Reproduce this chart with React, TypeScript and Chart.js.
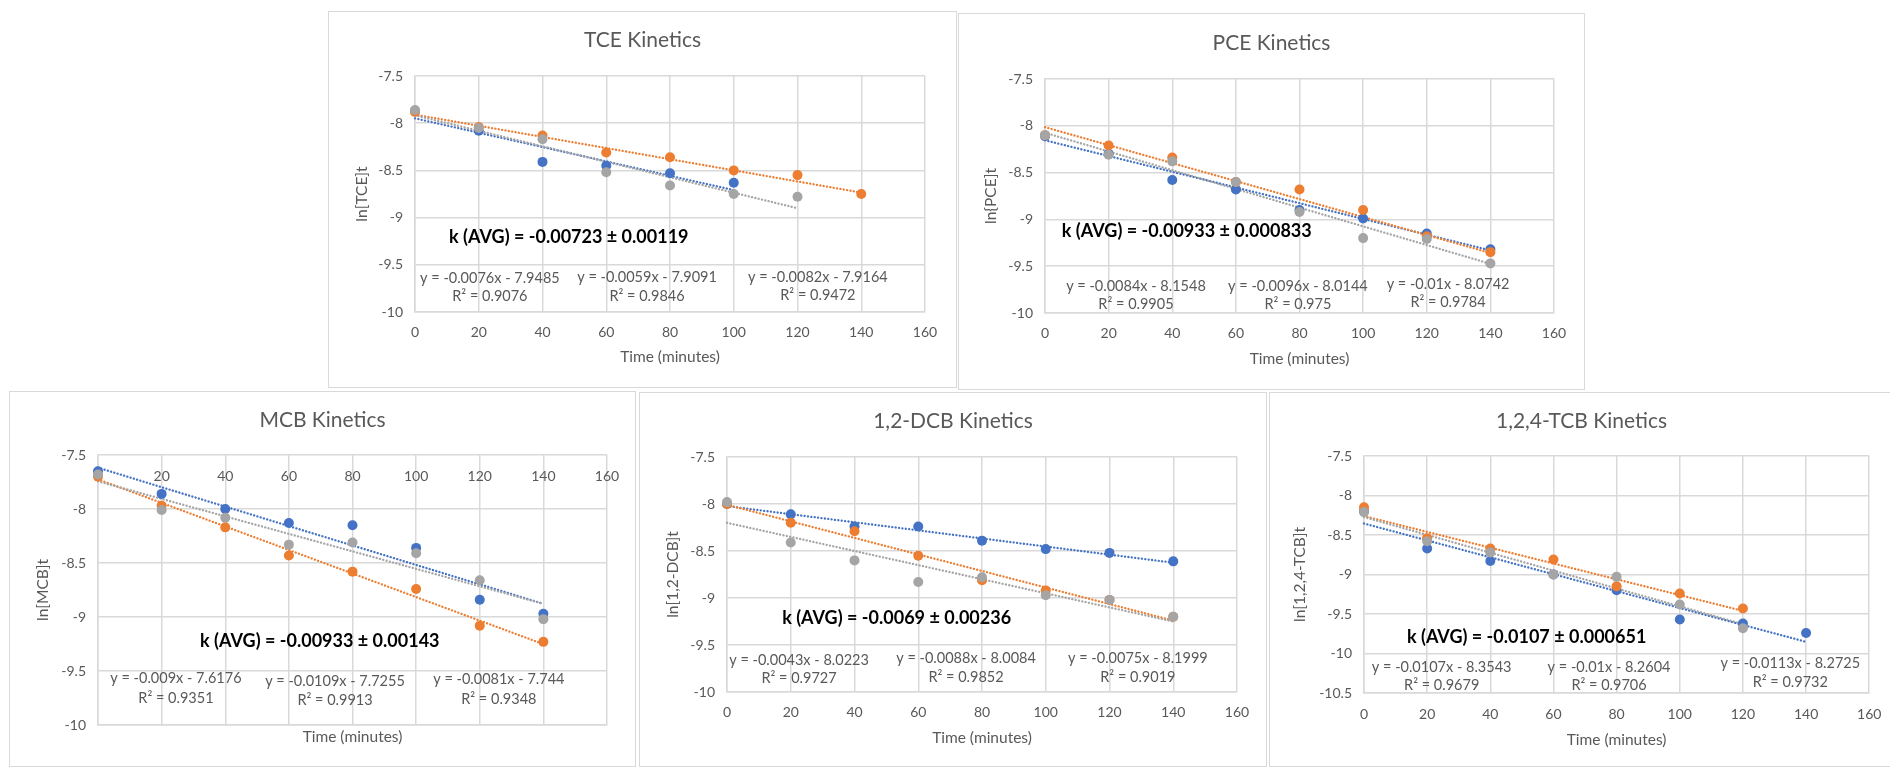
import React, { useEffect, useRef } from 'react';
import { Chart, registerables } from 'chart.js';

Chart.register(...registerables);

// ---------- shared axes ----------
const times = [0, 20, 40, 60, 80, 100, 120, 140];
const xTickValues = [0, 20, 40, 60, 80, 100, 120, 140, 160];
const yTickValues = [-10, -9.5, -9, -8.5, -8, -7.5];
const yTickValuesTCB = [-10.5, -10, -9.5, -9, -8.5, -8, -7.5];
const xAxisTitle = 'Time (minutes)';
const seriesNames = ['Trial 1', 'Trial 2', 'Trial 3'];

// ---------- TCE ----------
const tceTitle = 'TCE Kinetics';
const tceYTitle = 'ln[TCE]t';
const tceBlue = [-7.87, -8.08, -8.41, -8.45, -8.53, -8.63];
const tceOrange = [-7.88, -8.04, -8.13, -8.31, -8.36, -8.5, -8.55, -8.75];
const tceGray = [-7.86, -8.05, -8.17, -8.52, -8.66, -8.75, -8.78];
const tceSlopes = [-0.0076, -0.0059, -0.0082];
const tceIntercepts = [-7.9485, -7.9091, -7.9164];
const tceR2 = ['0.9076', '0.9846', '0.9472'];
const tceK = ['-0.00723', '0.00119'];

// ---------- PCE ----------
const pceTitle = 'PCE Kinetics';
const pceYTitle = 'ln{PCE]t';
const pceBlue = [-8.11, -8.3, -8.58, -8.68, -8.9, -8.99, -9.15, -9.32];
const pceOrange = [-8.1, -8.21, -8.34, -8.6, -8.68, -8.9, -9.18, -9.35];
const pceGray = [-8.1, -8.31, -8.38, -8.6, -8.92, -9.2, -9.21, -9.47];
const pceSlopes = [-0.0084, -0.0096, -0.01];
const pceIntercepts = [-8.1548, -8.0144, -8.0742];
const pceR2 = ['0.9905', '0.975', '0.9784'];
const pceK = ['-0.00933', '0.000833'];

// ---------- MCB ----------
const mcbTitle = 'MCB Kinetics';
const mcbYTitle = 'ln[MCB]t';
const mcbBlue = [-7.65, -7.86, -8.0, -8.13, -8.15, -8.36, -8.84, -8.97];
const mcbOrange = [-7.7, -7.97, -8.17, -8.43, -8.58, -8.74, -9.08, -9.23];
const mcbGray = [-7.68, -8.01, -8.08, -8.33, -8.31, -8.41, -8.66, -9.02];
const mcbSlopes = [-0.009, -0.0109, -0.0081];
const mcbIntercepts = [-7.6176, -7.7255, -7.744];
const mcbR2 = ['0.9351', '0.9913', '0.9348'];
const mcbK = ['-0.00933', '0.00143'];

// ---------- 1,2-DCB ----------
const dcbTitle = '1,2-DCB Kinetics';
const dcbYTitle = 'ln[1,2-DCB]t';
const dcbBlue = [-8.0, -8.11, -8.24, -8.24, -8.39, -8.48, -8.52, -8.61];
const dcbOrange = [-8.0, -8.2, -8.29, -8.55, -8.81, -8.92, -9.02, -9.2];
const dcbGray = [-7.98, -8.41, -8.6, -8.83, -8.78, -8.97, -9.02, -9.2];
const dcbSlopes = [-0.0043, -0.0088, -0.0075];
const dcbIntercepts = [-8.0223, -8.0084, -8.1999];
const dcbR2 = ['0.9727', '0.9852', '0.9019'];
const dcbK = ['-0.0069', '0.00236'];

// ---------- 1,2,4-TCB ----------
const tcbTitle = '1,2,4-TCB Kinetics';
const tcbYTitle = 'ln[1,2,4-TCB]t';
const tcbBlue = [-8.2, -8.67, -8.83, -9.0, -9.2, -9.57, -9.62, -9.74];
const tcbOrange = [-8.15, -8.54, -8.67, -8.81, -9.15, -9.24, -9.43];
const tcbGray = [-8.21, -8.58, -8.72, -9.0, -9.03, -9.38, -9.68];
const tcbSlopes = [-0.0107, -0.01, -0.0113];
const tcbIntercepts = [-8.3543, -8.2604, -8.2725];
const tcbR2 = ['0.9679', '0.9706', '0.9732'];
const tcbK = ['-0.0107', '0.000651'];

// ---------- styles ----------
const FONT = 'Lato, "Open Sans", "DejaVu Sans", sans-serif';
const TEXT = '#595959';
const GRID = '#d9d9d9';
const COLORS = ['#4472C4', '#ED7D31', '#A5A5A5'];
const TICK_SIZE = 14;
const AXIS_TITLE_SIZE = 15.5;
const TITLE_SIZE = 21;
const EQ_SIZE = 14.5;
const K_SIZE = 18;

type Box = { left: number; top: number; width: number; height: number };
type Plot = { left: number; top: number; right: number; bottom: number };
type Layout = {
  box: Box;
  plot: Plot;
  titleY: number;
  yTitleX: number;
  xTitleY: number;
  xTickY: number;
  topTicks: boolean;
  kAt: [number, number];
  eqAt: [number, number, number][];
};
type Panel = {
  title: string;
  yTitle: string;
  yTicks: number[];
  series: number[][];
  slopes: number[];
  intercepts: number[];
  r2: string[];
  k: string[];
  layout: Layout;
};

const layouts: Record<string, Layout> = {
  tce: {
    box: { left: 328, top: 11, width: 629, height: 377 },
    plot: { left: 87, top: 65, right: 597, bottom: 301 },
    titleY: 29, yTitleX: 34, xTitleY: 346, xTickY: 321, topTicks: false,
    kAt: [10.7, -9.21],
    eqAt: [[23.5, -9.64, -9.83], [72.8, -9.63, -9.83], [126.4, -9.63, -9.82]],
  },
  pce: {
    box: { left: 958, top: 13, width: 627, height: 377 },
    plot: { left: 87, top: 66, right: 596, bottom: 300 },
    titleY: 30, yTitleX: 33, xTitleY: 346, xTickY: 320, topTicks: false,
    kAt: [5.3, -9.13],
    eqAt: [[28.6, -9.71, -9.91], [79.5, -9.71, -9.91], [126.7, -9.69, -9.89]],
  },
  mcb: {
    box: { left: 9, top: 391, width: 627, height: 376 },
    plot: { left: 89, top: 64, right: 598, bottom: 334 },
    titleY: 29, yTitleX: 34, xTitleY: 346, xTickY: 85, topTicks: true,
    kAt: [32.1, -9.22],
    eqAt: [[24.5, -9.57, -9.75], [74.5, -9.6, -9.77], [126, -9.58, -9.76]],
  },
  dcb: {
    box: { left: 639, top: 392, width: 628, height: 375 },
    plot: { left: 88, top: 65, right: 598, bottom: 300 },
    titleY: 29, yTitleX: 34, xTitleY: 346, xTickY: 320, topTicks: false,
    kAt: [17.3, -9.22],
    eqAt: [[22.6, -9.66, -9.85], [75, -9.64, -9.84], [128.9, -9.64, -9.84]],
  },
  tcb: {
    box: { left: 1269, top: 392, width: 625, height: 375 },
    plot: { left: 95, top: 64, right: 602, bottom: 301 },
    titleY: 29, yTitleX: 31, xTitleY: 348, xTickY: 322, topTicks: false,
    kAt: [13.6, -9.79],
    eqAt: [[24.6, -10.17, -10.4], [77.6, -10.17, -10.4], [135, -10.12, -10.36]],
  },
};

const panels: Panel[] = [
  { title: tceTitle, yTitle: tceYTitle, yTicks: yTickValues, series: [tceBlue, tceOrange, tceGray], slopes: tceSlopes, intercepts: tceIntercepts, r2: tceR2, k: tceK, layout: layouts.tce },
  { title: pceTitle, yTitle: pceYTitle, yTicks: yTickValues, series: [pceBlue, pceOrange, pceGray], slopes: pceSlopes, intercepts: pceIntercepts, r2: pceR2, k: pceK, layout: layouts.pce },
  { title: mcbTitle, yTitle: mcbYTitle, yTicks: yTickValues, series: [mcbBlue, mcbOrange, mcbGray], slopes: mcbSlopes, intercepts: mcbIntercepts, r2: mcbR2, k: mcbK, layout: layouts.mcb },
  { title: dcbTitle, yTitle: dcbYTitle, yTicks: yTickValues, series: [dcbBlue, dcbOrange, dcbGray], slopes: dcbSlopes, intercepts: dcbIntercepts, r2: dcbR2, k: dcbK, layout: layouts.dcb },
  { title: tcbTitle, yTitle: tcbYTitle, yTicks: yTickValuesTCB, series: [tcbBlue, tcbOrange, tcbGray], slopes: tcbSlopes, intercepts: tcbIntercepts, r2: tcbR2, k: tcbK, layout: layouts.tcb },
];

function annotationPlugin(p: Panel) {
  return {
    id: 'kineticsText',
    afterDatasetsDraw(chart: any) {
      const { ctx } = chart;
      const x = chart.scales.x;
      const y = chart.scales.y;
      const L = p.layout;
      ctx.save();
      ctx.textBaseline = 'middle';
      ctx.font = `bold ${K_SIZE}px ${FONT}`;
      ctx.fillStyle = '#000000';
      ctx.textAlign = 'left';
      ctx.fillText(`k (AVG) = ${p.k[0]} ± ${p.k[1]}`, x.getPixelForValue(L.kAt[0]), y.getPixelForValue(L.kAt[1]));
      ctx.font = `${EQ_SIZE}px ${FONT}`;
      ctx.fillStyle = TEXT;
      ctx.textAlign = 'center';
      L.eqAt.forEach(([ex, ey, ry], i) => {
        const eq = `y = ${p.slopes[i]}x - ${Math.abs(p.intercepts[i])}`;
        const r = `R² = ${p.r2[i]}`;
        const px = x.getPixelForValue(ex);
        ctx.fillText(eq, px, y.getPixelForValue(ey));
        ctx.fillText(r, px, y.getPixelForValue(ry));
      });
      ctx.restore();
    },
  };
}

function buildConfig(p: Panel): any {
  const L = p.layout;
  const w = L.box.width;
  const h = L.box.height;
  const tickLH = TICK_SIZE * 1.2;
  const axisLH = AXIS_TITLE_SIZE * 1.2;
  const titleLH = TITLE_SIZE * 1.2;
  const tickFont = { family: FONT, size: TICK_SIZE };

  const datasets: any[] = [];
  p.series.forEach((vals, i) => {
    datasets.push({
      label: seriesNames[i],
      data: vals.map((v, j) => ({ x: times[j], y: v })),
      backgroundColor: COLORS[i],
      borderColor: COLORS[i],
      pointRadius: 5,
      pointHoverRadius: 5,
      pointBorderWidth: 0,
      showLine: false,
      clip: false,
      order: 2 - i,
    });
  });
  p.series.forEach((vals, i) => {
    const xEnd = times[vals.length - 1];
    datasets.push({
      label: `Linear (${seriesNames[i]})`,
      data: [0, xEnd].map((xv) => ({ x: xv, y: p.slopes[i] * xv + p.intercepts[i] })),
      showLine: true,
      borderColor: COLORS[i],
      backgroundColor: COLORS[i],
      borderWidth: 2.3,
      borderDash: [0.1, 3.3],
      borderCapStyle: 'round',
      pointRadius: 0,
      pointHoverRadius: 0,
      clip: false,
      order: 12 - i,
    });
  });

  const scales: any = {
    x: {
      type: 'linear',
      min: 0,
      max: 160,
      position: 'bottom',
      afterBuildTicks: (s: any) => { s.ticks = xTickValues.map((v) => ({ value: v })); },
      afterFit: (s: any) => { s.height = h - L.plot.bottom; },
      grid: { color: GRID, lineWidth: 1.5, drawTicks: false },
      border: { color: GRID, width: 1.5 },
      ticks: {
        display: !L.topTicks,
        color: TEXT,
        font: tickFont,
        padding: L.xTickY - L.plot.bottom - tickLH / 2,
        maxRotation: 0,
        autoSkip: false,
        callback: (v: any) => String(v),
      },
      title: {
        display: true,
        text: xAxisTitle,
        color: TEXT,
        font: { family: FONT, size: AXIS_TITLE_SIZE },
        padding: { top: 0, bottom: h - L.xTitleY - axisLH / 2 },
      },
    },
    y: {
      type: 'linear',
      min: p.yTicks[0],
      max: p.yTicks[p.yTicks.length - 1],
      position: 'left',
      afterBuildTicks: (s: any) => { s.ticks = p.yTicks.map((v) => ({ value: v })); },
      afterFit: (s: any) => { s.width = L.plot.left; },
      grid: { color: GRID, lineWidth: 1.5, drawTicks: false },
      border: { color: GRID, width: 1.5 },
      ticks: { color: TEXT, font: tickFont, padding: 12, callback: (v: any) => String(v) },
      title: {
        display: true,
        text: p.yTitle,
        color: TEXT,
        font: { family: FONT, size: AXIS_TITLE_SIZE },
        padding: { top: L.yTitleX - axisLH / 2, bottom: 0 },
      },
    },
    // empty right-hand margin so the chart title stays centred on the whole panel
    yRight: {
      type: 'linear',
      position: 'right',
      min: p.yTicks[0],
      max: p.yTicks[p.yTicks.length - 1],
      grid: { display: false, drawTicks: false },
      border: { display: false },
      ticks: { display: false },
      afterFit: (s: any) => { s.width = w - L.plot.right; },
    },
  };
  if (L.topTicks) {
    // horizontal axis crossing at the top (-7.5), labels drawn just inside the plot
    scales.x2 = {
      type: 'linear',
      min: 0,
      max: 160,
      position: 'top',
      z: 1,
      afterBuildTicks: (s: any) => { s.ticks = xTickValues.map((v) => ({ value: v })); },
      afterFit: (s: any) => { s.height = 0; },
      grid: { display: false, drawTicks: false },
      border: { display: false },
      ticks: {
        mirror: true,
        color: TEXT,
        font: tickFont,
        padding: L.xTickY - L.plot.top - tickLH / 2,
        maxRotation: 0,
        autoSkip: false,
        callback: (v: any) => String(v),
      },
    };
  }

  return {
    type: 'scatter',
    data: { datasets },
    options: {
      animation: false,
      responsive: false,
      devicePixelRatio: 1,
      events: [],
      layout: { padding: 0 },
      scales,
      plugins: {
        legend: { display: false },
        tooltip: { enabled: false },
        title: {
          display: true,
          text: p.title,
          color: TEXT,
          font: { family: FONT, size: TITLE_SIZE, weight: 'normal' },
          padding: { top: L.titleY - titleLH / 2, bottom: L.plot.top - L.titleY - titleLH / 2 },
        },
      },
    },
    plugins: [annotationPlugin(p)],
  };
}

function PanelChart({ panel }: { panel: Panel }) {
  const ref = useRef<HTMLCanvasElement>(null);
  useEffect(() => {
    if (!ref.current) return;
    const chart = new Chart(ref.current, buildConfig(panel));
    return () => chart.destroy();
  }, [panel]);
  const { box } = panel.layout;
  return (
    <>
      <div
        style={{
          position: 'absolute',
          left: box.left,
          top: box.top,
          width: box.width,
          height: box.height,
          border: `1px solid ${GRID}`,
          boxSizing: 'border-box',
          background: '#ffffff',
        }}
      />
      <canvas
        ref={ref}
        width={box.width}
        height={box.height}
        style={{ position: 'absolute', left: box.left, top: box.top, width: box.width, height: box.height }}
      />
    </>
  );
}

export default function App() {
  return (
    <div style={{ position: 'fixed', left: 0, top: 0, width: 1890, height: 767, background: '#ffffff', overflow: 'hidden' }}>
      {panels.map((p) => (
        <PanelChart key={p.title} panel={p} />
      ))}
    </div>
  );
}
